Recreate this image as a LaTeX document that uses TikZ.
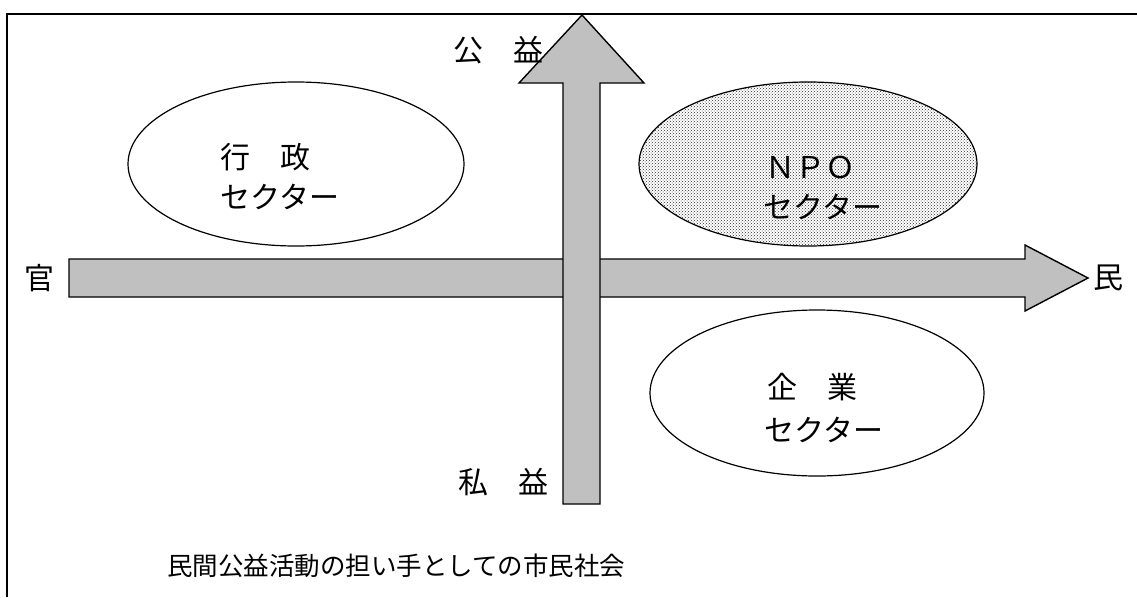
\documentclass[tikz,border=0pt]{standalone}
\usepackage{fontspec}
\newfontfamily\jp{Noto Sans CJK JP}
\usetikzlibrary{patterns,shapes.geometric}
\definecolor{arrowgray}{HTML}{C0C0C0}
\tikzset{
  sector/.style={ellipse, draw=black, line width=1.2pt, fill=white, inner sep=0pt},
  dotted sector/.style={ellipse, draw=black, line width=1.2pt, inner sep=0pt,
    preaction={fill=white}, pattern=crosshatch dots, pattern color=black!80},
  bigarrow/.style={draw=black, line width=1.4pt, fill=arrowgray, line join=miter},
  lbl/.style={inner sep=0pt, font=\jp\fontsize{30}{36}\selectfont},
  lblL/.style={lbl, anchor=west},
  caption/.style={inner sep=0pt, anchor=west, font=\jp\fontsize{25.5}{30}\selectfont}
}
\begin{document}
\begin{tikzpicture}[x=1pt,y=-1pt]
\useasboundingbox (0,0) rectangle (1137,597);
% frame (left and top only)
\draw[line width=2pt] (7,597) -- (7,14) -- (1137,14);
% sector ellipses
\node[sector, minimum width=336pt, minimum height=164pt] (gyosei) at (296,164) {};
\node[dotted sector, minimum width=338pt, minimum height=164pt] (npo) at (808,164) {};
\node[sector, minimum width=334pt, minimum height=166pt] (kigyo) at (817,393) {};
% horizontal arrow (kan -> min)
\draw[bigarrow] (69,259) -- (1025,259) -- (1025,245) -- (1088,278) -- (1025,311) -- (1025,297) -- (69,297) -- cycle;
% vertical arrow (shieki -> koeki)
\draw[bigarrow] (563,504) -- (563,83) -- (519,83) -- (582,15) -- (644,83) -- (600,83) -- (600,504) -- cycle;
% labels
\node[lblL] (g1) at (220,157) {行　政};
\node[lblL] (g2) at (220,197) {セクター};
\node[lblL] (n1) at (765,167) {ＮＰＯ};
\node[lblL] (n2) at (763,207) {セクター};
\node[lblL] (k1) at (767,387) {企　業};
\node[lblL] (k2) at (764,430) {セクター};
\node[lbl] (koeki) at (498,50) {公　益};
\node[lbl] (shieki) at (503,482) {私　益};
\node[lbl] (kan) at (39,278) {官};
\node[lbl] (min) at (1108,278) {民};
\node[caption] (cap) at (167,566) {民間公益活動の担い手としての市民社会};
\end{tikzpicture}
\end{document}
